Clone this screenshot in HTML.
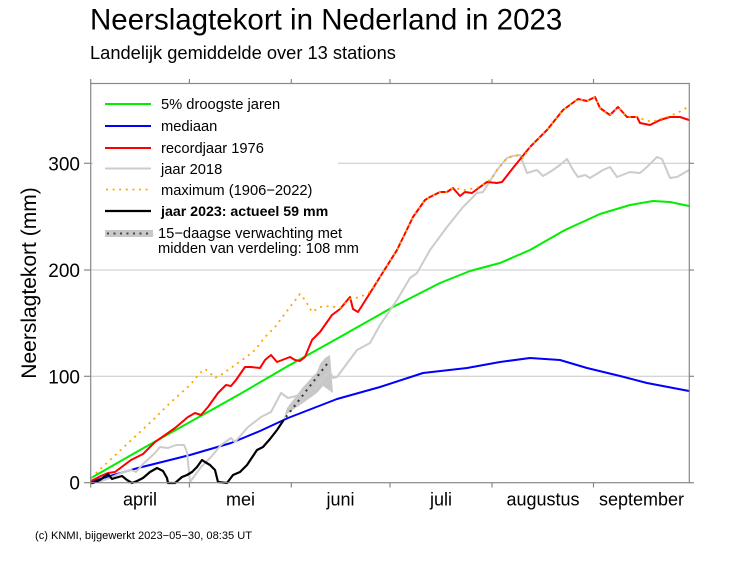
<!DOCTYPE html>
<html><head><meta charset="utf-8"><style>
html,body{margin:0;padding:0;background:#fff;}
svg{display:block;font-family:"Liberation Sans",Arial,sans-serif;}
</style></head><body>
<svg width="732" height="565" viewBox="0 0 732 565" xmlns="http://www.w3.org/2000/svg">
<rect width="732" height="565" fill="#fff"/>
<text x="90" y="29.5" font-size="29.5" fill="#000">Neerslagtekort in Nederland in 2023</text>
<text x="90" y="59" font-size="18.3" fill="#000">Landelijk gemiddelde over 13 stations</text>
<text transform="translate(36,283) rotate(-90)" text-anchor="middle" font-size="21" fill="#000">Neerslagtekort (mm)</text>

<!-- grid -->
<g stroke="#c8c8c8" stroke-width="1">
<line x1="90.7" y1="163.3" x2="689.3" y2="163.3"/>
<line x1="90.7" y1="270" x2="689.3" y2="270"/>
<line x1="90.7" y1="376.3" x2="689.3" y2="376.3"/>
</g>

<!-- forecast shade -->
<polygon points="283,421 287,408 303,387 317,372 320,364 325,358 330,355 333,393 323,386 317,393 303,403 287,414" fill="#c8c8c8"/>

<g fill="none" stroke-width="2" stroke-linejoin="round" stroke-linecap="round">
<polyline stroke="#00ee00" points="91,478 140,450 190,422 240,394 288,366 340,337 393,307 440,283 470,271 500,263 530,250 565,230 600,214 630,205 653,201 670,202 689,206"/>
<polyline stroke="#0000ff" points="91,482 110,476 138,468 190,455 231,443 260,431 288,418 337,399 380,387 423,373 467,368 500,362 530,358 560,360 587,368 620,376 647,383 689,391"/>
<polyline stroke="#cccccc" points="98,482 110,478 121,473 131,470 136,472 143,464 155,453 160,447 168,448 176,445 184,445 187,452 190,482 201,467 211,457 221,445 231,438 235,442 248,427 261,417 271,412 281,393 288,398 300,395 315,388 326,375 330,372 333,378 337,377 357,350 370,343 380,325 397,300 410,278 417,273 430,250 447,227 463,207 477,193 483,192 497,170 507,158 513,156 520,155 527,173 537,170 543,176 550,172 560,165 567,159 573,170 578,177 585,175 590,178 603,170 610,167 617,177 630,172 640,173 647,167 657,157 662,159 670,178 677,177 689,170"/>
<polyline stroke="#ff0000" points="91,481 93,480 101,476 108,473 115,472 131,460 143,454 155,442 168,433 175,428 188,417 195,413 201,415 208,407 218,393 226,385 231,386 236,380 245,367 251,367 260,368 265,360 271,355 277,362 290,357 295,360 300,361 305,357 312,340 320,332 332,315 340,309 350,297 353,309 358,312 370,293 380,277 397,250 413,217 425,200 430,197 440,192 447,192 453,188 460,196 465,192 472,193 480,187 487,182 497,183 502,182 513,168 530,147 547,130 563,110 578,99 587,101 595,97 600,108 607,113 610,115 618,107 627,117 637,117 640,123 650,125 660,120 670,117 680,117 689,120"/>
<polyline stroke="#ffa500" stroke-width="1.8" stroke-linecap="butt" stroke-dasharray="2 4.6" points="91,478 110,460 125,446 140,432 155,418 170,403 180,394 190,385 200,373 205,369 210,373 215,378 221,375 235,365 245,358 255,350 265,337 275,327 290,307 300,294 305,300 312,312 320,307 330,306 340,308 350,299 360,297 370,292 380,277 397,250 413,217 425,200 430,197 440,192 447,192 453,188 465,190 480,187 487,182 492,178 497,170 507,158 513,156 520,155 523,158 530,147 547,130 563,110 578,99 587,101 595,97 600,108 607,113 610,115 618,107 627,117 637,117 645,120 652,122 660,119 670,116 677,113 683,110 689,106"/>
<polyline stroke="#000" stroke-width="2.2" points="91,483 93,483 100,480 108,474 112,479 115,478 122,476 127,480 132,483 137,481 143,478 150,472 157,468 163,471 167,478 168,483 175,483 182,477 187,475 192,472 197,467 202,460 205,462 210,465 215,470 218,482 227,483 233,475 240,472 247,465 257,450 263,447 270,439 277,430 283,421"/>
<polyline stroke="#333" stroke-linecap="butt" stroke-dasharray="2 4.5" points="286,417 327,364"/>
</g>

<!-- legend box -->
<rect x="93" y="86" width="245" height="177" fill="#fff"/>
<g stroke-width="2" fill="none">
<line x1="105" y1="104" x2="151" y2="104" stroke="#00ee00"/>
<line x1="105" y1="126" x2="151" y2="126" stroke="#0000ff"/>
<line x1="105" y1="148" x2="151" y2="148" stroke="#ff0000"/>
<line x1="105" y1="168.5" x2="151" y2="168.5" stroke="#cccccc"/>
<line x1="106" y1="189.5" x2="151" y2="189.5" stroke="#ffa500" stroke-width="1.8" stroke-dasharray="2 4.6"/>
<line x1="105" y1="211" x2="151" y2="211" stroke="#000" stroke-width="2.2"/>
<line x1="105" y1="233.5" x2="153" y2="233.5" stroke="#c8c8c8" stroke-width="7"/>
<line x1="107" y1="233.5" x2="151" y2="233.5" stroke="#444" stroke-dasharray="2 4.5"/>
</g>
<g font-size="14.7" fill="#000">
<text x="161" y="109">5% droogste jaren</text>
<text x="161" y="131">mediaan</text>
<text x="161" y="153">recordjaar 1976</text>
<text x="161" y="174">jaar 2018</text>
<text x="161" y="195">maximum (1906−2022)</text>
<text x="161" y="216" font-weight="bold" font-size="14.2">jaar 2023: actueel 59 mm</text>
<text x="158" y="238">15−daagse verwachting met</text>
<text x="158" y="253">midden van verdeling: 108 mm</text>
</g>

<!-- axes box -->
<g stroke="#888" stroke-width="1.2" fill="none">
<rect x="90.7" y="83.5" width="598.6" height="399.2"/>
<line x1="84" y1="163.3" x2="90.7" y2="163.3"/>
<line x1="84" y1="270" x2="90.7" y2="270"/>
<line x1="84" y1="376.3" x2="90.7" y2="376.3"/>
<line x1="84" y1="482.7" x2="90.7" y2="482.7"/>
<line x1="689.3" y1="163.3" x2="694" y2="163.3"/>
<line x1="689.3" y1="270" x2="694" y2="270"/>
<line x1="689.3" y1="376.3" x2="694" y2="376.3"/>
<line x1="689.3" y1="482.7" x2="694" y2="482.7"/>
<line x1="90.7" y1="79" x2="90.7" y2="83.5"/>
<line x1="189.4" y1="79" x2="189.4" y2="83.5"/>
<line x1="291.3" y1="79" x2="291.3" y2="83.5"/>
<line x1="390" y1="79" x2="390" y2="83.5"/>
<line x1="492" y1="79" x2="492" y2="83.5"/>
<line x1="593.5" y1="79" x2="593.5" y2="83.5"/>
<line x1="90.7" y1="482.7" x2="90.7" y2="487.5"/>
<line x1="189.4" y1="482.7" x2="189.4" y2="487.5"/>
<line x1="291.3" y1="482.7" x2="291.3" y2="487.5"/>
<line x1="390" y1="482.7" x2="390" y2="487.5"/>
<line x1="492" y1="482.7" x2="492" y2="487.5"/>
<line x1="593.5" y1="482.7" x2="593.5" y2="487.5"/>
</g>

<g font-size="19" fill="#000" text-anchor="end">
<text x="80" y="170.3">300</text>
<text x="80" y="277">200</text>
<text x="80" y="383.3">100</text>
<text x="80" y="489.7">0</text>
</g>
<g font-size="18" fill="#000" text-anchor="middle">
<text x="140" y="505.7">april</text>
<text x="240.5" y="505.7">mei</text>
<text x="340.5" y="505.7">juni</text>
<text x="441" y="505.7">juli</text>
<text x="543" y="505.7">augustus</text>
<text x="641.5" y="505.7">september</text>
</g>
<text x="35" y="539" font-size="11.1" fill="#000">(c) KNMI, bijgewerkt 2023−05−30, 08:35 UT</text>
</svg>
</body></html>
